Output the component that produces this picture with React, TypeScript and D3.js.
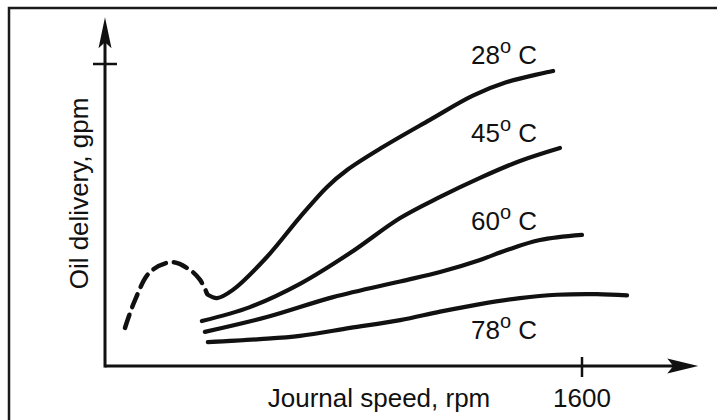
import React from "react";
import * as d3 from "d3";

// Journal speed (rpm) / oil delivery (relative gpm, tick = 1)
const speedTicks = [1600];
const deliveryTicks = [1];

const dashedRpm = [67, 101, 151, 225, 285, 319, 342];
const dashedGpm = [0.126, 0.219, 0.311, 0.344, 0.318, 0.285, 0.24];

const rpm28 = [345, 376, 429, 543, 654, 745, 812, 932, 1090, 1234, 1348, 1503];
const gpm28 = [0.236, 0.225, 0.252, 0.361, 0.493, 0.593, 0.649, 0.725, 0.815, 0.895, 0.94, 0.977];

const rpm45 = [325, 486, 654, 822, 990, 1124, 1258, 1392, 1526];
const gpm45 = [0.149, 0.195, 0.272, 0.374, 0.49, 0.56, 0.623, 0.679, 0.722];

const rpm60 = [335, 543, 765, 990, 1124, 1258, 1348, 1459, 1600];
const gpm60 = [0.113, 0.162, 0.228, 0.28, 0.311, 0.351, 0.384, 0.417, 0.434];

const rpm78 = [345, 520, 654, 822, 990, 1124, 1258, 1392, 1516, 1650, 1751];
const gpm78 = [0.079, 0.089, 0.1, 0.126, 0.152, 0.18, 0.205, 0.225, 0.236, 0.238, 0.234];

const tempLabels = ["28", "45", "60", "78"];

const W = 717;
const H = 420;

export default function App() {
  const x = d3.scaleLinear().domain([0, 1600]).range([105, 582]);
  const y = d3.scaleLinear().domain([0, 1]).range([366, 64]);

  const line = d3
    .line<[number, number]>()
    .x((d) => x(d[0]))
    .y((d) => y(d[1]))
    .curve(d3.curveCatmullRom.alpha(0.5));

  const zip = (a: number[], b: number[]) => a.map((v, i) => [v, b[i]] as [number, number]);

  const solid = [
    zip(rpm28, gpm28),
    zip(rpm45, gpm45),
    zip(rpm60, gpm60),
    zip(rpm78, gpm78),
  ];
  const dashed = zip(dashedRpm, dashedGpm);

  const x0 = x(0);
  const y0 = y(0);
  const xEnd = x(1990);
  const yEnd = y(1.155);

  const labelBaselines = [64, 142, 230, 339];
  const labelX = 471;
  const font = "'Liberation Sans', Arial, sans-serif";

  return (
    <div style={{ position: "fixed", left: 0, top: 0, width: W, height: H, background: "#fff" }}>
      <svg width={W} height={H} style={{ display: "block" }}>
        <rect x={0} y={0} width={W} height={H} fill="#fff" />
        {/* frame */}
        <rect x={9} y={8} width={W + 20} height={H + 20} fill="none" stroke="#1a1a1a" strokeWidth={2.5} />

        {/* axes */}
        <line x1={x0} y1={y0} x2={xEnd - 20} y2={y0} stroke="#111" strokeWidth={3} />
        <path d={`M${xEnd},${y0} L${xEnd - 31},${y0 - 7.5} L${xEnd - 25},${y0} L${xEnd - 31},${y0 + 7.5} Z`} fill="#111" />
        <line x1={x0} y1={y0 + 1.5} x2={x0} y2={yEnd + 20} stroke="#111" strokeWidth={3} />
        <path d={`M${x0},${yEnd} L${x0 - 6.5},${yEnd + 31} L${x0},${yEnd + 25} L${x0 + 6.5},${yEnd + 31} Z`} fill="#111" />

        {/* ticks */}
        {speedTicks.map((t) => (
          <g key={"xt" + t}>
            <line x1={x(t)} x2={x(t)} y1={y0 - 9} y2={y0 + 11} stroke="#111" strokeWidth={2.5} />
            <text x={x(t)} y={y0 + 41} textAnchor="middle" fontFamily={font} fontSize={26} fill="#111">
              {t}
            </text>
          </g>
        ))}
        {deliveryTicks.map((t) => (
          <line key={"yt" + t} x1={x0 - 12} x2={x0 + 12} y1={y(t)} y2={y(t)} stroke="#111" strokeWidth={2.5} />
        ))}

        {/* axis titles */}
        <text x={(265 + 493) / 2} y={y0 + 41} textAnchor="middle" fontFamily={font} fontSize={26} fill="#111">
          Journal speed, rpm
        </text>
        <text
          transform={`translate(88, ${(90 + 297) / 2}) rotate(-90)`}
          textAnchor="middle"
          fontFamily={font}
          fontSize={26}
          fill="#111"
        >
          Oil delivery, gpm
        </text>

        {/* curves */}
        <path d={line(dashed) || ""} fill="none" stroke="#111" strokeWidth={4.5} strokeDasharray="14 8" strokeLinecap="round" />
        {solid.map((s, i) => (
          <path key={i} d={line(s) || ""} fill="none" stroke="#111" strokeWidth={4.2} strokeLinecap="round" />
        ))}

        {/* temperature labels */}
        {tempLabels.map((t, i) => (
          <text key={t} x={labelX} y={labelBaselines[i]} fontFamily={font} fontSize={26} fill="#111">
            {t}
            <tspan fontSize={20} dy={-11}>o</tspan>
            <tspan dy={11}> C</tspan>
          </text>
        ))}
      </svg>
    </div>
  );
}
